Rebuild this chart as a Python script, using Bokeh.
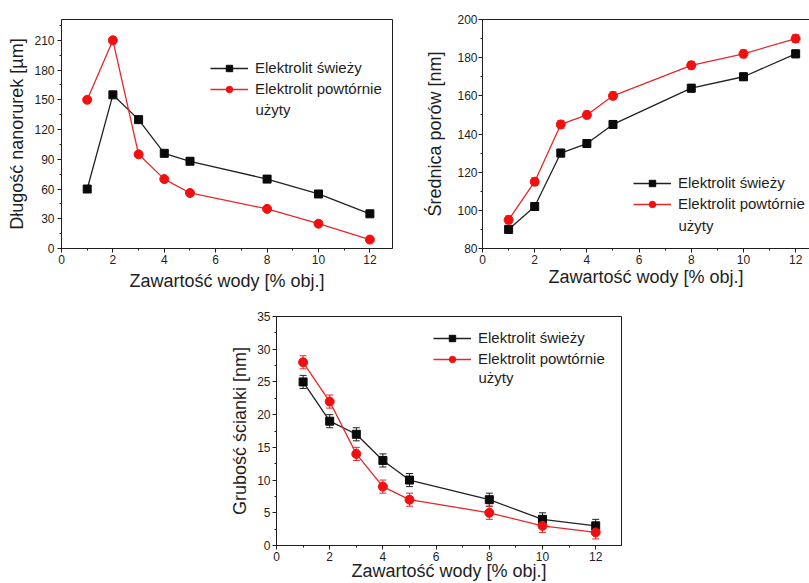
from bokeh.plotting import figure
from bokeh.layouts import column, row
from bokeh.models import (ColumnDataSource, FixedTicker, Label, Legend, LegendItem, LinearAxis,
                          Range1d, SingleIntervalTicker, Spacer, TeeHead, Whisker)
from bokeh.embed import file_html
from bokeh.resources import INLINE

# Water content of the electrolyte [% vol.]
water = [1, 2, 3, 4, 5, 8, 10, 12]

# Nanotube length [µm]
length_fresh = [60, 155, 130, 96, 88, 70, 55, 35]
length_reused = [150, 210, 95, 70, 56, 40, 25, 9]

# Pore diameter [nm]
pore_fresh = [90, 102, 130, 135, 145, 164, 170, 182]
pore_reused = [95, 115, 145, 150, 160, 176, 182, 190]
pore_err = [2, 2, 2, 2, 2, 2, 2, 2]

# Wall thickness [nm]
wall_fresh = [25, 19, 17, 13, 10, 7, 4, 3]
wall_reused = [28, 22, 14, 9, 7, 5, 3, 2]
wall_err = [1, 1, 1, 1, 1, 1, 1, 1]

x_title = "Zawartość wody [% obj.]"
label_fresh = "Elektrolit świeży"
label_reused = "Elektrolit powtórnie"
label_reused_2 = "użyty"

FONT = "Liberation Sans"
INK = "#1e1e1e"
BLACK = "#0a0a0a"
RED_LINE = "#e8262a"
RED_MARK = "#f20f0f"

GLYPH_W = 38
LABEL_GAP = 7


def make_panel(width, height, borders, x_end, y_range, y_step, y_title,
               y_std, x_std, box=True):
    left, right, top, bottom = borders
    p = figure(width=width, height=height, output_backend="svg", toolbar_location=None,
               x_range=Range1d(0, x_end), y_range=Range1d(*y_range),
               min_border_left=left, min_border_right=right,
               min_border_top=top, min_border_bottom=bottom)
    p.grid.visible = False
    p.background_fill_color = "white"
    p.border_fill_color = "white"

    xax, yax = p.below[0], p.left[0]
    xax.ticker = SingleIntervalTicker(interval=2, num_minor_ticks=2)
    yax.ticker = SingleIntervalTicker(interval=y_step, num_minor_ticks=2)
    xax.axis_label = x_title
    yax.axis_label = y_title
    for ax in (xax, yax):
        ax.axis_line_color = INK
        ax.major_tick_line_color = INK
        ax.minor_tick_line_color = INK
        ax.major_tick_in = 0
        ax.major_tick_out = 4
        ax.minor_tick_in = 0
        ax.minor_tick_out = 2
        ax.major_label_text_font = FONT
        ax.major_label_text_font_size = "12px"
        ax.major_label_text_color = INK
        ax.axis_label_text_font = FONT
        ax.axis_label_text_font_size = "18px"
        ax.axis_label_text_font_style = "normal"
        ax.axis_label_text_color = INK
    yax.major_label_standoff = y_std[0]
    yax.axis_label_standoff = y_std[1]
    xax.major_label_standoff = x_std[0]
    xax.axis_label_standoff = x_std[1]

    if box:
        p.outline_line_color = INK
        p.outline_line_width = 1
    else:
        # open frame on the right: only a plain top edge line
        p.outline_line_color = None
        top_axis = LinearAxis(ticker=FixedTicker(ticks=[]), axis_line_color=INK,
                              major_tick_out=0, major_tick_in=0,
                              major_label_standoff=0, major_label_text_font_size="0px")
        p.add_layout(top_axis, "above")
    return p


def add_series(p, fresh, reused, legend_loc, err=None):
    if err is not None:
        for vals, color in ((fresh, "#222222"), (reused, RED_LINE)):
            src = ColumnDataSource(dict(x=water,
                                        lo=[v - e for v, e in zip(vals, err)],
                                        hi=[v + e for v, e in zip(vals, err)]))
            p.add_layout(Whisker(base="x", lower="lo", upper="hi", source=src,
                                 line_color=color, line_width=1,
                                 lower_head=TeeHead(size=7, line_color=color, line_width=1),
                                 upper_head=TeeHead(size=7, line_color=color, line_width=1)))
    l1 = p.line(water, fresh, line_color="#222222", line_width=1.3)
    s1 = p.scatter(water, fresh, marker="square", size=8, fill_color=BLACK, line_color=BLACK)
    l2 = p.line(water, reused, line_color=RED_LINE, line_width=1.3)
    s2 = p.scatter(water, reused, marker="circle", size=9, fill_color=RED_MARK, line_color=RED_MARK)
    lx, ly, second_y = legend_loc
    legend = Legend(items=[LegendItem(label=label_fresh, renderers=[l1, s1]),
                           LegendItem(label=label_reused, renderers=[l2, s2])],
                    location=(lx, ly), border_line_color=None, background_fill_alpha=0,
                    glyph_width=GLYPH_W, glyph_height=16, label_standoff=LABEL_GAP,
                    padding=0, margin=0, spacing=4, label_text_font=FONT,
                    label_text_font_size="15px", label_text_color=INK)
    p.add_layout(legend)
    # second line of the wrapped legend label
    p.add_layout(Label(x=lx + GLYPH_W + LABEL_GAP, y=second_y, x_units="screen",
                       y_units="screen", text=label_reused_2, text_font=FONT,
                       text_font_size="15px", text_color=INK, text_baseline="middle"))


p1 = make_panel(422, 296, (61, 30, 19, 48), 12.88, (0, 231), 30,
                "Długość nanorurek [µm]", (3, 4), (2, 4))
add_series(p1, length_fresh, length_reused, (149, 151, 139))

p2 = make_panel(387, 296, (57, 0, 19, 48), 12.53, (80, 200), 20,
                "Średnica porów [nm]", (1, 9), (2, 0), box=False)
add_series(p2, pore_fresh, pore_reused, (151, 36, 23), pore_err)

p3 = make_panel(431, 287, (76, 10, 20, 37), 12.97, (0, 35), 5,
                "Grubość ścianki [nm]", (2, 4), (2, -3))
add_series(p3, wall_fresh, wall_reused, (157, 178, 168), wall_err)

layout = column(row(p1, p2), row(Spacer(width=200, height=287), p3))

open("out.html", "w").write(file_html(layout, INLINE))
